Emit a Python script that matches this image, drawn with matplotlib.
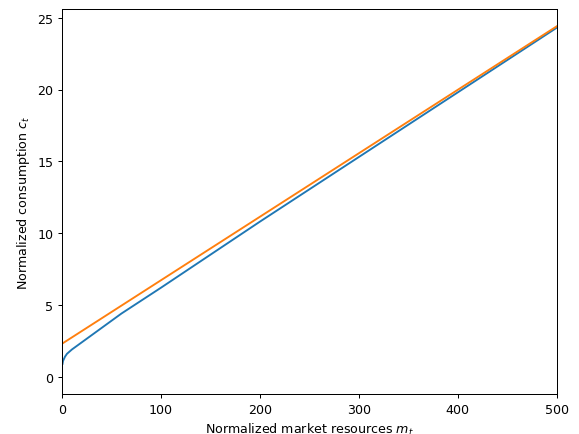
import matplotlib
matplotlib.use("Agg")
import matplotlib.pyplot as plt

m_blue = [0.5, 1, 3, 5, 10, 20, 40, 60, 100, 150, 200, 300, 400, 500]
c_blue = [0.9, 1.1, 1.4, 1.6, 1.9, 2.4, 3.4, 4.4, 6.2, 8.5, 10.8, 15.3, 19.8, 24.3]
m_orange = [0, 500]
c_orange = [2.3, 24.4]

fig, ax = plt.subplots(figsize=(6.4, 4.8), dpi=90.6)
fig.subplots_adjust(left=0.107, right=0.960, top=0.977, bottom=0.092)
ax.plot(m_blue, c_blue, color="#1f77b4")
ax.plot(m_orange, c_orange, color="#ff7f0e")
ax.set_xlim(0, 500)
ax.set_ylim(-1.2, 25.6)
ax.set_xlabel("Normalized market resources $m_t$")
ax.set_ylabel("Normalized consumption $c_t$")
fig.savefig("out.png")
